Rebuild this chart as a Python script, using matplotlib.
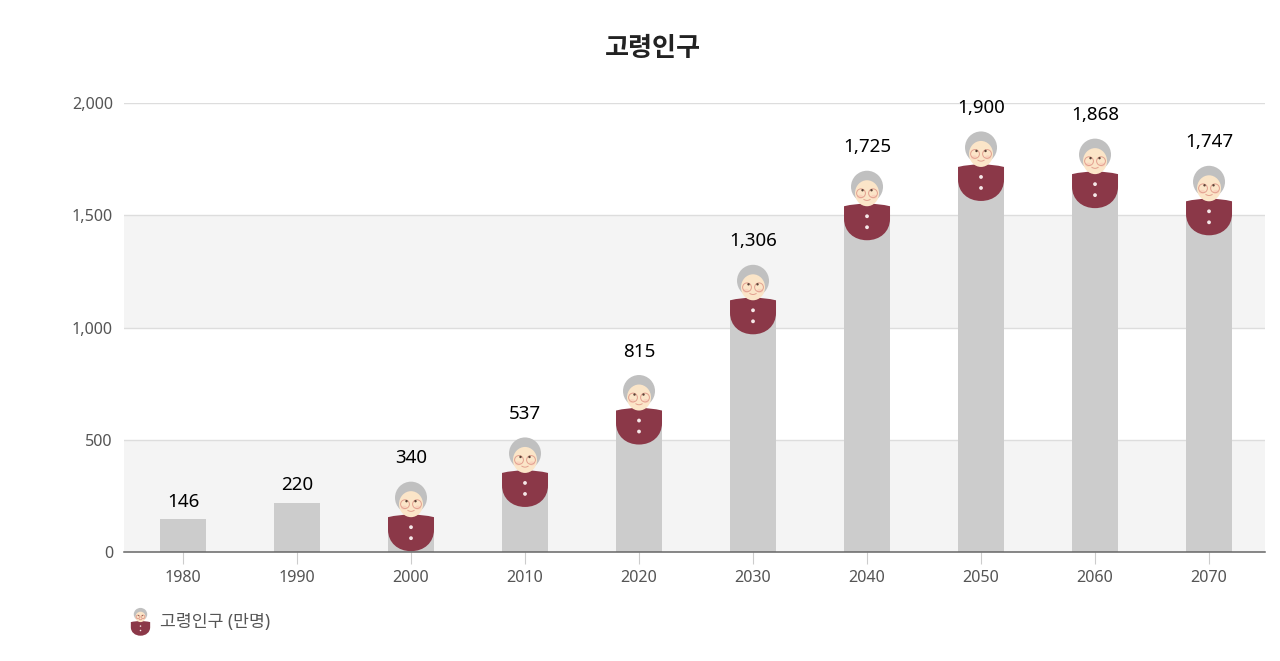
import matplotlib
matplotlib.use("Agg")
import matplotlib.pyplot as plt
from matplotlib.patches import Circle, Ellipse, PathPatch, Rectangle
from matplotlib.path import Path
from matplotlib.transforms import Affine2D, ScaledTranslation

plt.rcParams['font.family'] = ['Noto Sans', 'Noto Sans CJK KR', 'DejaVu Sans']

years = ['1980', '1990', '2000', '2010', '2020', '2030', '2040', '2050', '2060', '2070']
population = [146, 220, 340, 537, 815, 1306, 1725, 1900, 1868, 1747]
with_icon = [False, False, True, True, True, True, True, True, True, True]
y_ticks = [0, 500, 1000, 1500, 2000]
y_labels = ['0', '500', '1,000', '1,500', '2,000']
title = '고령인구'
legend_label = '고령인구 (만명)'

W, H = 1280, 661
fig = plt.figure(figsize=(W / 100, H / 100), dpi=100, facecolor='white')
ax = fig.add_axes([124 / W, (H - 552) / H, 1141 / W, 449 / H])
ax.set_xlim(-0.5175, 9.491)
ax.set_ylim(0, 2000)
ax.set_facecolor('white')

ax.axhspan(0, 500, color='#f4f4f4', lw=0, zorder=0)
ax.axhspan(1000, 1500, color='#f4f4f4', lw=0, zorder=0)
for v in y_ticks[1:]:
    ax.axhline(v, color='#dddddd', lw=1.0, zorder=1)

xs = list(range(len(years)))
bars = ax.bar(xs, population, width=46 / 114, color='#cccccc', lw=0, zorder=2)

# the figure stands on its column: the grey ends behind the figure's body
units_per_px = 2000 / 449
for bar, x, v, show in zip(bars, xs, population, with_icon):
    if show:
        bar.set_clip_path(Rectangle((x - 0.5, 0), 1, v - 50 * units_per_px,
                                    transform=ax.transData))

for s in ['top', 'right', 'left']:
    ax.spines[s].set_visible(False)
ax.spines['bottom'].set_color('#666666')
ax.spines['bottom'].set_linewidth(1.1)
ax.spines['bottom'].set_zorder(6)

ax.set_xticks(xs, years)
ax.set_yticks(y_ticks, y_labels)
ax.tick_params(axis='x', length=8.6, width=0.8, color='#cccccc', pad=4.5,
               labelsize=11.6, labelcolor='#555555')
ax.tick_params(axis='y', length=0, pad=8, labelsize=11.6, labelcolor='#555555')


def draw_icon(tr, z=4):
    """Figure drawn in pixel units, y downward, origin at the column top centre."""
    def add(p):
        p.set_transform(tr)
        p.set_clip_on(False)
        p.set_zorder(z)
        ax.add_patch(p)

    add(Circle((0, 22), 16, fc='#c0c0c0', ec='none'))
    # body
    verts = [(-23, 41.5), (-8, 38), (8, 38), (23, 41.5), (23, 54),
             (23, 67), (13, 75.5), (0, 75.5), (-13, 75.5), (-23, 67), (-23, 54), (-23, 41.5)]
    codes = [Path.MOVETO, Path.CURVE4, Path.CURVE4, Path.CURVE4, Path.LINETO,
             Path.CURVE4, Path.CURVE4, Path.CURVE4, Path.CURVE4, Path.CURVE4, Path.CURVE4,
             Path.LINETO]
    add(PathPatch(Path(verts, codes), fc='#8b3848', ec='none'))
    # face
    add(Ellipse((0, 28.5), 24, 26, fc='#fbe5c8', ec='none'))
    for sx in (-1, 1):
        add(Ellipse((sx * 7, 32), 6, 4, fc='#f9d3bd', ec='none'))
        add(Circle((sx * 6, 28.5), 4.4, fc='none', ec='#e2a08f', lw=0.7))
        add(Circle((sx * 4.5, 25.5), 1.2, fc='#5a4236', ec='none'))
    mouth = Path([(-3.5, 34.5), (0, 37), (3.5, 34.5)], [Path.MOVETO, Path.CURVE3, Path.CURVE3])
    add(PathPatch(mouth, fc='none', ec='#e2a08f', lw=0.7))
    for by in (51.5, 62.5):
        add(Circle((0, by), 1.9, fc='#f5e8e8', ec='none'))


flip = Affine2D().scale(1, -1)
for x, v, show in zip(xs, population, with_icon):
    if show:
        draw_icon(flip + ScaledTranslation(x, v, ax.transData))
    ax.annotate(f'{v:,}', (x, v), xytext=(0, 12.5), textcoords='offset points',
                ha='center', va='center', fontsize=13.5, color='#000000', zorder=5)

fig.text(653 / W, 1 - 48 / H, title, ha='center', va='center',
         family=['Noto Sans CJK KR'], fontsize=18.8, fontweight='bold', color='#222222')

# legend entry
legend_tr = Affine2D().scale(0.42, -0.4) + Affine2D().translate(140.5, H - 605.5)
draw_icon(legend_tr, z=7)
fig.text(160 / W, 1 - 622 / H, legend_label, ha='left', va='center',
         fontsize=12.4, color='#555555')

fig.savefig('out.png', dpi=100, facecolor='white')
